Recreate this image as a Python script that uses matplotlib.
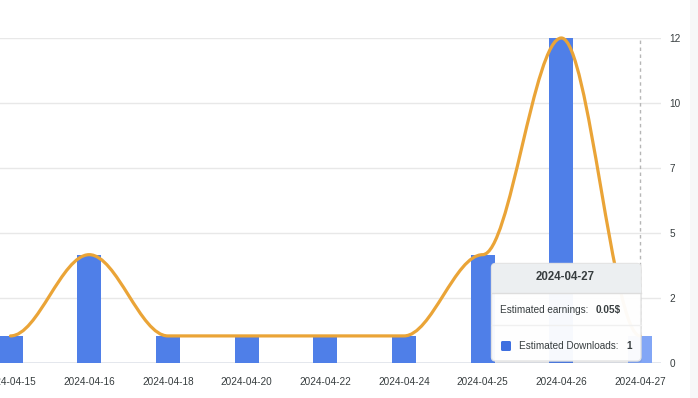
import matplotlib
matplotlib.use("Agg")
import matplotlib.pyplot as plt
from matplotlib.path import Path
from matplotlib.patches import PathPatch, FancyBboxPatch, Rectangle

# ---- data ----
categories = ["2024-04-15", "2024-04-16", "2024-04-18", "2024-04-20", "2024-04-22",
              "2024-04-24", "2024-04-25", "2024-04-26", "2024-04-27"]
downloads = [1, 4, 1, 1, 1, 1, 4, 12, 1]
line_values = [1, 4, 1, 1, 1, 1, 4, 12, 1]
y_ticks = [0, 2.4, 4.8, 7.2, 9.6, 12]
y_tick_labels = ["0", "2", "5", "7", "10", "12"]
tooltip_date = "2024-04-27"
tooltip_earnings = "0.05$"
tooltip_downloads = "1"
hover_index = 8

W, H = 698, 398
plt.rcParams['font.family'] = ['Liberation Sans', 'DejaVu Sans']
fig = plt.figure(figsize=(W / 100, H / 100), dpi=100)
fig.patch.set_facecolor("white")

# light strip at right edge (page background)
fig.patches.append(Rectangle((690 / W, 0), 8 / W, 1, transform=fig.transFigure,
                             facecolor="#f7f7f8", edgecolor="none", zorder=0))

ax_left, ax_right, ax_top, ax_bottom = 0, 661, 38, 363
ax = fig.add_axes([ax_left / W, (H - ax_bottom) / H, (ax_right - ax_left) / W, (ax_bottom - ax_top) / H])
ax.set_facecolor("none")

spacing = 78.7
x0px = 10.5
ax.set_xlim((ax_left - x0px) / spacing, (ax_right - x0px) / spacing)
ax.set_ylim(0, 12)

xs = list(range(len(categories)))

# grid lines
for t in y_ticks[1:]:
    ax.axhline(t, color="#e8e8e8", lw=1, zorder=0)
ax.axhline(0, color="#dfe3ea", lw=1.2, zorder=1)

# bars
bar_colors = ["#4f7fe8"] * len(categories)
bar_colors[hover_index] = "#82a6f6"
ax.bar(xs, downloads, width=24 / spacing, color=bar_colors, zorder=2)

# smooth line (horizontal tangents at each point, apex-style)
verts = [(xs[0], line_values[0])]
codes = [Path.MOVETO]
for i in range(1, len(xs)):
    xa, ya = xs[i - 1], line_values[i - 1]
    xb, yb = xs[i], line_values[i]
    L = (xb - xa) * 0.35
    verts += [(xa + L, ya), (xb - L, yb), (xb, yb)]
    codes += [Path.CURVE4] * 3
ax.add_patch(PathPatch(Path(verts, codes), facecolor="none", edgecolor="#eaa437",
                       lw=2.3, zorder=3, clip_on=False, capstyle="round", joinstyle="round"))

# crosshair
ax.axvline(hover_index, ymin=0, ymax=1, color="#b6b6b6", lw=1, ls=(0, (2.5, 2.5)), zorder=1)

# axes styling
for s in ax.spines.values():
    s.set_visible(False)
ax.yaxis.tick_right()
ax.set_yticks(y_ticks)
ax.set_yticklabels(y_tick_labels)
ax.set_xticks(xs)
ax.set_xticklabels(categories)
ax.tick_params(axis="both", length=0, labelsize=7.2, colors="#373d3f")
ax.tick_params(axis="y", pad=6)
ax.tick_params(axis="x", pad=10)

# tooltip
bx0, by0, bx1, by1 = 491.5, 263.5, 641, 361
tt = fig.add_axes([0, 0, 1, 1], facecolor="none")
tt.set_xlim(0, W)
tt.set_ylim(H, 0)
tt.axis("off")
tt.add_patch(FancyBboxPatch((bx0 + 1, by0 + 2), bx1 - bx0, by1 - by0,
                            boxstyle="round,pad=0,rounding_size=4", facecolor="#000000",
                            alpha=0.06, edgecolor="none", zorder=4))
tt.add_patch(FancyBboxPatch((bx0, by0), bx1 - bx0, by1 - by0,
                            boxstyle="round,pad=0,rounding_size=4", facecolor="white",
                            alpha=0.96, edgecolor="#e3e3e3", lw=1, zorder=5))
tt.add_patch(FancyBboxPatch((bx0 + 0.5, by0 + 0.5), bx1 - bx0 - 1, 28,
                            boxstyle="round,pad=0,rounding_size=3.5", facecolor="#eceff1",
                            edgecolor="none", zorder=6))
tt.add_patch(Rectangle((bx0 + 0.5, by0 + 20), bx1 - bx0 - 1, 9, facecolor="#eceff1",
                       edgecolor="none", zorder=6))
tt.plot([bx0 + 0.5, bx1 - 0.5], [by0 + 29, by0 + 29], color="#dddddd", lw=1, zorder=7)
tt.plot([bx0 + 0.5, bx1 - 0.5], [325, 325], color="#f0f0f0", lw=1, zorder=7)
tt.text((bx0 + bx1) / 2 - 1, 277.5, tooltip_date, ha="center", va="center", fontsize=8.3,
        fontweight="bold", color="#373d3f", zorder=8)
tt.text(500.5, 310, "Estimated earnings:", ha="left", va="center", fontsize=7.2,
        color="#373d3f", zorder=8)
tt.text(596, 310, tooltip_earnings, ha="left", va="center", fontsize=7.2,
        fontweight="bold", color="#373d3f", zorder=8)
tt.add_patch(FancyBboxPatch((501, 341), 10, 10, boxstyle="round,pad=0,rounding_size=1.5",
                            facecolor="#3e6fe0", edgecolor="none", zorder=8))
tt.text(519, 346, "Estimated Downloads:", ha="left", va="center", fontsize=7.2,
        color="#373d3f", zorder=8)
tt.text(626, 346, tooltip_downloads, ha="left", va="center", fontsize=7.2,
        fontweight="bold", color="#373d3f", zorder=8)

fig.savefig("out.png", dpi=100)
